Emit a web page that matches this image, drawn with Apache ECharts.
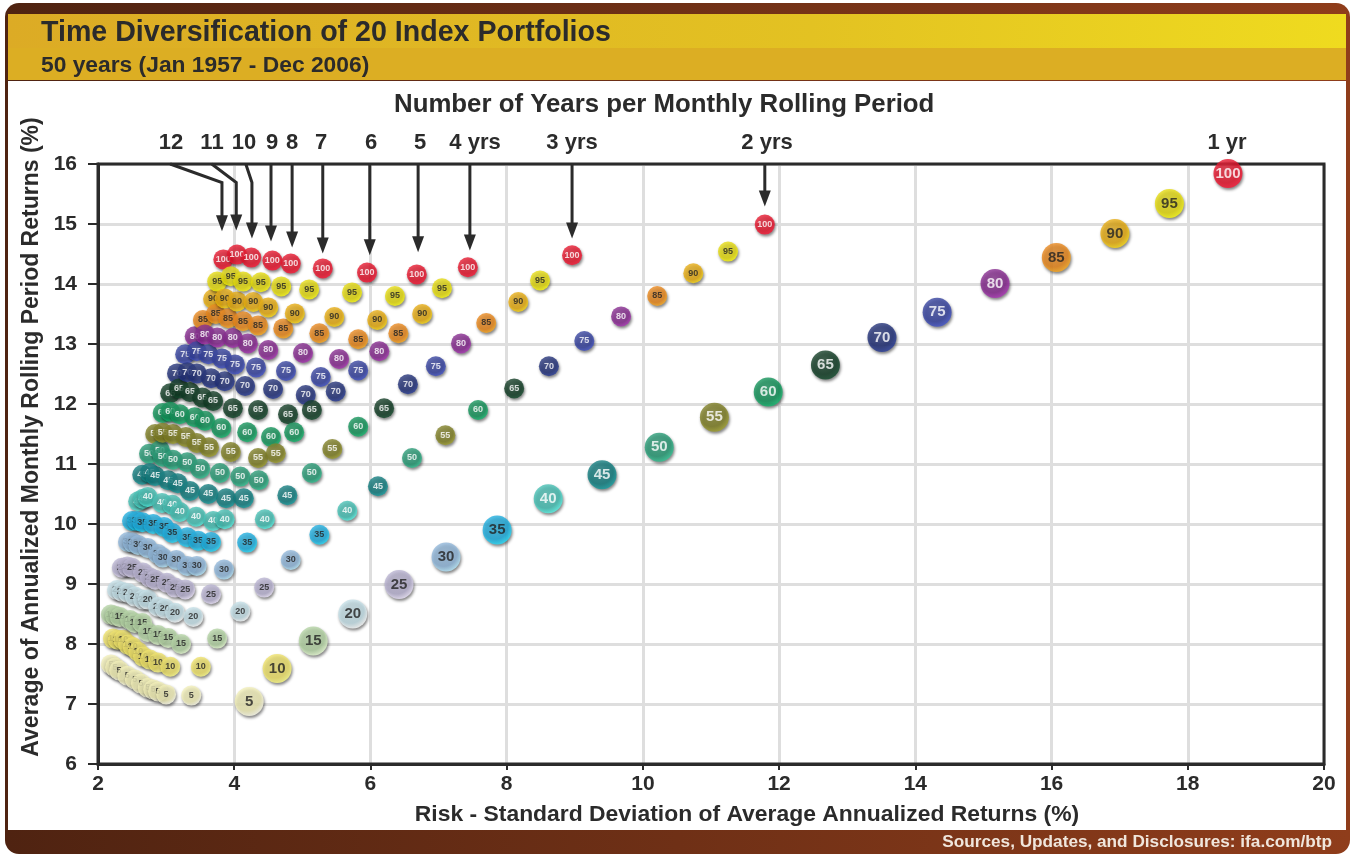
<!DOCTYPE html>
<html>
<head>
<meta charset="utf-8">
<title>Time Diversification of 20 Index Portfolios</title>
<script src="https://cdn.jsdelivr.net/npm/echarts@6/dist/echarts.min.js"></script>
<style>
  html, body { margin: 0; padding: 0; background: #fff; }
  #main { width: 1350px; height: 854px; }
</style>
</head>
<body>
<div id="main"></div>
<script>
// rolling periods, in drawing order (12 years first, 1 year on top)
const periods = [12, 11, 10, 9, 8, 7, 6, 5, 4, 3, 2, 1]
const periodLabels = ['12', '11', '10', '9', '8', '7', '6', '5', '4 yrs', '3 yrs', '2 yrs', '1 yr']
const portfolios = [5, 10, 15, 20, 25, 30, 35, 40, 45, 50, 55, 60, 65, 70, 75, 80, 85, 90, 95, 100]

// risk (x) and return (y) of each index portfolio, one value per rolling period
const risk5 = [2.19, 2.25, 2.31, 2.43, 2.54, 2.63, 2.73, 2.81, 2.88, 3.00, 3.37, 4.22]
const ret5 = [7.66, 7.61, 7.56, 7.47, 7.41, 7.34, 7.27, 7.24, 7.21, 7.16, 7.14, 7.04]
const risk10 = [2.22, 2.29, 2.37, 2.44, 2.51, 2.59, 2.66, 2.76, 2.88, 3.06, 3.51, 4.63]
const ret10 = [8.09, 8.07, 8.07, 7.99, 7.95, 7.87, 7.79, 7.74, 7.69, 7.62, 7.62, 7.59]
const risk15 = [2.19, 2.25, 2.32, 2.47, 2.54, 2.65, 2.73, 2.88, 3.03, 3.22, 3.75, 5.16]
const ret15 = [8.49, 8.47, 8.45, 8.40, 8.35, 8.35, 8.20, 8.15, 8.10, 8.00, 8.09, 8.05]
const risk20 = [2.28, 2.35, 2.44, 2.54, 2.66, 2.73, 2.88, 2.98, 3.13, 3.40, 4.09, 5.74]
const ret20 = [8.90, 8.87, 8.85, 8.79, 8.74, 8.74, 8.62, 8.59, 8.52, 8.45, 8.54, 8.50]
const risk25 = [2.35, 2.43, 2.50, 2.66, 2.76, 2.84, 3.01, 3.13, 3.28, 3.66, 4.44, 6.42]
const ret25 = [9.27, 9.29, 9.27, 9.19, 9.11, 9.07, 9.02, 8.94, 8.91, 8.83, 8.94, 8.99]
const risk30 = [2.44, 2.51, 2.59, 2.73, 2.88, 2.95, 3.15, 3.31, 3.45, 3.85, 4.83, 7.11]
const ret30 = [9.70, 9.69, 9.65, 9.60, 9.50, 9.44, 9.40, 9.30, 9.30, 9.24, 9.40, 9.45]
const risk35 = [2.50, 2.57, 2.65, 2.81, 2.97, 3.09, 3.31, 3.47, 3.66, 4.19, 5.25, 7.86]
const ret35 = [10.05, 10.05, 10.03, 10.00, 9.95, 9.85, 9.78, 9.72, 9.70, 9.69, 9.82, 9.90]
const risk40 = [2.59, 2.66, 2.73, 2.94, 3.09, 3.20, 3.44, 3.69, 3.86, 4.45, 5.66, 8.61]
const ret40 = [10.38, 10.42, 10.45, 10.35, 10.32, 10.20, 10.12, 10.05, 10.08, 10.08, 10.22, 10.42]
const risk45 = [2.65, 2.76, 2.84, 3.03, 3.17, 3.35, 3.62, 3.88, 4.14, 4.78, 6.11, 9.40]
const ret45 = [10.82, 10.85, 10.80, 10.73, 10.68, 10.55, 10.50, 10.43, 10.43, 10.48, 10.63, 10.82]
const risk50 = [2.75, 2.91, 2.95, 3.10, 3.31, 3.50, 3.79, 4.09, 4.36, 5.14, 6.61, 10.24]
const ret50 = [11.17, 11.23, 11.12, 11.07, 11.03, 10.92, 10.85, 10.79, 10.73, 10.85, 11.10, 11.28]
const risk55 = [2.84, 2.95, 3.10, 3.29, 3.45, 3.63, 3.95, 4.35, 4.61, 5.44, 7.10, 11.05]
const ret55 = [11.50, 11.52, 11.50, 11.45, 11.35, 11.28, 11.20, 11.10, 11.18, 11.25, 11.48, 11.78]
const risk60 = [2.95, 3.06, 3.20, 3.42, 3.57, 3.81, 4.19, 4.54, 4.88, 5.82, 7.58, 11.84]
const ret60 = [11.85, 11.87, 11.83, 11.78, 11.72, 11.60, 11.53, 11.45, 11.53, 11.62, 11.90, 12.20]
const risk65 = [3.06, 3.19, 3.35, 3.53, 3.69, 3.98, 4.35, 4.79, 5.14, 6.20, 8.11, 12.68]
const ret65 = [12.18, 12.26, 12.20, 12.11, 12.05, 11.93, 11.90, 11.83, 11.90, 11.93, 12.26, 12.65]
const risk70 = [3.16, 3.31, 3.45, 3.66, 3.86, 4.16, 4.57, 5.05, 5.49, 6.55, 8.62, 13.51]
const ret70 = [12.51, 12.53, 12.51, 12.43, 12.38, 12.30, 12.25, 12.15, 12.21, 12.33, 12.63, 13.11]
const risk75 = [3.28, 3.45, 3.62, 3.82, 4.01, 4.32, 4.76, 5.27, 5.82, 6.96, 9.14, 14.32]
const ret75 = [12.83, 12.88, 12.83, 12.76, 12.66, 12.61, 12.55, 12.45, 12.56, 12.63, 13.05, 13.53]
const risk80 = [3.42, 3.57, 3.75, 3.98, 4.20, 4.50, 5.01, 5.54, 6.13, 7.33, 9.68, 15.17]
const ret80 = [13.13, 13.16, 13.11, 13.10, 13.01, 12.90, 12.85, 12.75, 12.88, 13.01, 13.46, 14.01]
const risk85 = [3.54, 3.73, 3.91, 4.13, 4.35, 4.72, 5.25, 5.82, 6.41, 7.70, 10.21, 16.07]
const ret85 = [13.40, 13.50, 13.43, 13.38, 13.31, 13.26, 13.18, 13.08, 13.18, 13.35, 13.80, 14.44]
const risk90 = [3.69, 3.86, 4.04, 4.28, 4.50, 4.89, 5.47, 6.10, 6.76, 8.17, 10.74, 16.93]
const ret90 = [13.75, 13.76, 13.71, 13.70, 13.61, 13.51, 13.45, 13.40, 13.50, 13.70, 14.18, 14.84]
const risk95 = [3.75, 3.95, 4.13, 4.39, 4.69, 5.10, 5.73, 6.36, 7.05, 8.49, 11.25, 17.73]
const ret95 = [14.04, 14.13, 14.04, 14.03, 13.96, 13.91, 13.86, 13.80, 13.93, 14.06, 14.54, 15.34]
const risk100 = [3.84, 4.04, 4.25, 4.56, 4.83, 5.30, 5.95, 6.68, 7.43, 8.96, 11.79, 18.59]
const ret100 = [14.41, 14.49, 14.44, 14.39, 14.34, 14.26, 14.19, 14.16, 14.28, 14.48, 14.99, 15.84]

const riskRows = [risk5, risk10, risk15, risk20, risk25, risk30, risk35, risk40, risk45, risk50,
  risk55, risk60, risk65, risk70, risk75, risk80, risk85, risk90, risk95, risk100]
const retRows = [ret5, ret10, ret15, ret20, ret25, ret30, ret35, ret40, ret45, ret50,
  ret55, ret60, ret65, ret70, ret75, ret80, ret85, ret90, ret95, ret100]

const ballColors = ['#f3f0b8', '#efe268', '#b4d4a4', '#c4e0e8', '#b9b3d2', '#8fb6da', '#1caee0', '#44c0b4',
  '#0f7c7e', '#259a74', '#7e7e22', '#0f9358', '#0e3a22', '#202f78', '#33409f', '#86278f', '#ea8618', '#e8ac0e', '#e6dc0c', '#e8122a']
const darkText = [5, 10, 15, 20, 25, 30, 35, 85, 90, 95]

// arrows from the period labels down to the 100% ball, in data units (periods 12 to 2)
const arrowStart = [3.06, 3.67, 4.17, 4.54, 4.85, 5.30, 5.99, 6.70, 7.46, 8.96, 11.79]
const arrowBend = [3.82, 4.03, 4.26, 4.54, 4.85, 5.30, 5.99, 6.70, 7.46, 8.96, 11.79]
const arrowTipReturn = [14.88, 14.89, 14.76, 14.71, 14.61, 14.51, 14.48, 14.53, 14.56, 14.76, 15.29]
const arrowBendReturn = 15.69

const periodLabelX = [171, 212, 244, 272, 292, 321, 371, 420, 475, 572, 767, 1227]

const font = 'Liberation Sans'
const ink = '#2b2b2b'

function ballStyle (color) {
  return {
    color: new echarts.graphic.RadialGradient(0.42, 0.36, 0.66, [
      { offset: 0, color: echarts.color.lift(color, 0.14) },
      { offset: 0.7, color: color },
      { offset: 1, color: echarts.color.lift(color, -0.3) }
    ]),
    shadowColor: 'rgba(0,0,0,0.6)',
    shadowBlur: 3,
    shadowOffsetX: 1,
    shadowOffsetY: 2
  }
}

const ballSeries = periods.map((period, p) => ({
  name: period + ' yr',
  type: 'scatter',
  clip: false,
  symbolSize: period === 1 ? 29 : 20,
  z: 3 + p,
  data: portfolios.map((pf, i) => ({
    value: [riskRows[i][p], retRows[i][p]],
    itemStyle: ballStyle(ballColors[i]),
    label: {
      show: true,
      position: 'inside',
      formatter: String(pf),
      fontFamily: font,
      fontWeight: 'bold',
      fontSize: period === 1 ? 15 : 9,
      color: darkText.includes(pf) ? '#222' : '#fff'
    }
  }))
}))

const arrowSeries = {
  type: 'custom',
  z: 2,
  clip: false,
  silent: true,
  data: arrowTipReturn.map((tip, i) => [arrowStart[i], arrowBend[i], tip]),
  renderItem: (params, api) => {
    const top = api.coord([api.value(0), 16])
    const bend = api.coord([api.value(1), arrowBendReturn])
    const tip = api.coord([api.value(1), api.value(2)])
    return {
      type: 'group',
      children: [
        {
          type: 'polyline',
          shape: { points: [top, bend, [tip[0], tip[1] - 10]] },
          style: { stroke: '#2b2b2b', lineWidth: 3, fill: null }
        },
        {
          type: 'polygon',
          shape: { points: [[tip[0] - 6, tip[1] - 16], [tip[0] + 6, tip[1] - 16], tip] },
          style: { fill: '#2b2b2b' }
        }
      ]
    }
  }
}

const periodTexts = periodLabels.map((label, i) => ({
  type: 'text',
  z: 10,
  style: {
    text: label,
    x: periodLabelX[i],
    y: 143,
    align: 'center',
    verticalAlign: 'middle',
    fontFamily: font,
    fontWeight: 'bold',
    fontSize: 22,
    fill: ink
  }
}))

const option = {
  animation: false,
  textStyle: { fontFamily: font },
  title: [
    {
      text: 'Time Diversification of 20 Index Portfolios',
      left: 41,
      top: 19,
      padding: 0,
      textStyle: { fontFamily: font, fontWeight: 'bold', fontSize: 28.6, color: ink }
    },
    {
      text: '50 years (Jan 1957 - Dec 2006)',
      left: 41,
      top: 54,
      padding: 0,
      textStyle: { fontFamily: font, fontWeight: 'bold', fontSize: 22.8, color: ink }
    },
    {
      text: 'Number of Years per Monthly Rolling Period',
      left: 394,
      top: 92,
      padding: 0,
      textStyle: { fontFamily: font, fontWeight: 'bold', fontSize: 25.8, color: ink }
    }
  ],
  grid: {
    left: 98,
    top: 164,
    width: 1226,
    height: 600,
    show: true,
    backgroundColor: 'transparent',
    borderColor: ink,
    borderWidth: 3,
    z: 1
  },
  xAxis: {
    type: 'value',
    min: 2,
    max: 20,
    interval: 2,
    name: 'Risk - Standard Deviation of Average Annualized Returns (%)',
    nameLocation: 'middle',
    nameGap: 39,
    nameTextStyle: { fontFamily: font, fontWeight: 'bold', fontSize: 22.9, color: ink, padding: [0, 0, 0, 72] },
    axisLine: { show: true, onZero: false, lineStyle: { color: ink, width: 3 } },
    axisTick: { show: true, length: 6, lineStyle: { color: ink, width: 2 } },
    axisLabel: { fontFamily: font, fontWeight: 'bold', fontSize: 21, color: ink, margin: 10 },
    splitLine: { show: true, lineStyle: { color: '#dedede', width: 3 } }
  },
  yAxis: {
    type: 'value',
    min: 6,
    max: 16,
    interval: 1,
    name: 'Average of Annualized Monthly Rolling Period Returns (%)',
    nameLocation: 'middle',
    nameGap: 55,
    nameRotate: 90,
    nameTextStyle: { fontFamily: font, fontWeight: 'bold', fontSize: 23, color: ink, padding: [0, 0, 0, 54] },
    axisLine: { show: true, onZero: false, lineStyle: { color: ink, width: 3 } },
    axisTick: { show: true, length: 10, lineStyle: { color: ink, width: 2 } },
    axisLabel: { fontFamily: font, fontWeight: 'bold', fontSize: 21, color: ink, margin: 21 },
    splitLine: { show: true, lineStyle: { color: '#dedede', width: 3 } }
  },
  graphic: [
    {
      type: 'rect',
      z: -5,
      shape: { x: 5, y: 3, width: 1345, height: 851, r: 14 },
      style: {
        fill: new echarts.graphic.LinearGradient(0, 0, 1, 0, [
          { offset: 0, color: '#4f2311' },
          { offset: 1, color: '#8f3d1b' }
        ])
      }
    },
    {
      type: 'rect',
      z: -4,
      shape: { x: 8, y: 81, width: 1338, height: 749 },
      style: { fill: '#fff' }
    },
    {
      type: 'rect',
      z: -4,
      shape: { x: 8, y: 14, width: 1338, height: 34 },
      style: {
        fill: new echarts.graphic.LinearGradient(0, 0, 1, 0, [
          { offset: 0, color: '#dcab25' },
          { offset: 0.6, color: '#e3c222' },
          { offset: 1, color: '#efdb1f' }
        ])
      }
    },
    {
      type: 'rect',
      z: -4,
      shape: { x: 8, y: 48, width: 1338, height: 32 },
      style: { fill: '#dcae23' }
    },
    {
      type: 'text',
      z: 10,
      style: {
        text: 'Sources, Updates, and Disclosures: ifa.com/btp',
        x: 1332,
        y: 842,
        align: 'right',
        verticalAlign: 'middle',
        fontFamily: font,
        fontWeight: 'bold',
        fontSize: 17.2,
        fill: '#f0e6dc'
      }
    }
  ].concat(periodTexts),
  series: [arrowSeries].concat(ballSeries)
}

const chart = echarts.init(document.getElementById('main'))
chart.setOption(option)
</script>
</body>
</html>
